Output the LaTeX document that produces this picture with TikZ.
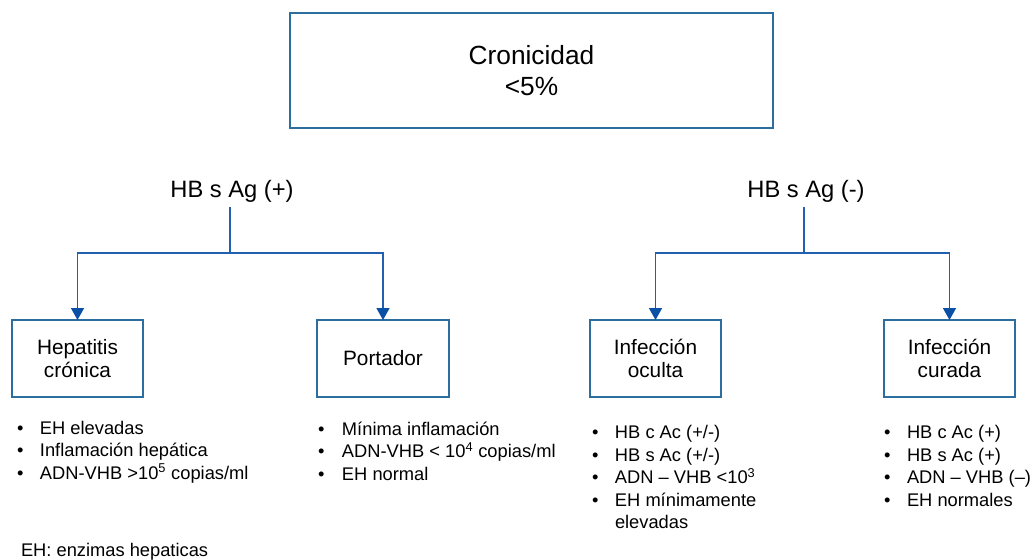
\documentclass[tikz,border=0pt]{standalone}
\usepackage{fontspec}
\setmainfont{Liberation Sans}
\usetikzlibrary{arrows.meta}
\definecolor{boxcol}{RGB}{44,110,160}
\definecolor{linecol}{RGB}{35,95,175}
\definecolor{tipcol}{RGB}{10,80,165}
\newcommand{\bul}[1]{\makebox[#1][l]{\textbullet}}
\begin{document}
\begin{tikzpicture}[x=1pt,y=-1pt,
  box/.style={draw=boxcol,line width=1.3pt,inner sep=0pt,outer sep=0pt,align=center,
    minimum height=77pt,font=\fontsize{20.8}{23}\selectfont},
  head/.style={font=\fontsize{23.7}{26}\selectfont,inner sep=5pt,outer sep=0pt,anchor=base},
  conn/.style={draw=linecol,line width=1.5pt},
  arr/.style={conn,-{Triangle[width=13pt,length=12pt,color=tipcol]}},
  lst/.style={anchor=base west,inner sep=0pt,outer sep=0pt,font=\fontsize{18.3}{22.6}\selectfont},
]
\useasboundingbox (0,0) rectangle (1032,559);

\node[draw=boxcol,line width=1.3pt,minimum width=483pt,minimum height=115pt,inner sep=0pt,
  align=center,font=\fontsize{26.3}{31}\selectfont] (top) at (531.5,70.5) {Cronicidad\\<5\%};

\node[head] (hbp) at (232,197) {HB s Ag (+)};
\node[head] (hbn) at (806,197) {HB s Ag (-)};

\node[box,minimum width=131pt] (hc) at (77.5,358.5) {Hepatitis\\crónica};
\node[box,minimum width=132pt] (po) at (383,358.5) {Portador};
\node[box,minimum width=131pt] (oc) at (655.5,358.5) {Infección\\oculta};
\node[box,minimum width=131pt] (cu) at (949.5,358.5) {Infección\\curada};

\coordinate (jp) at (230,253);
\coordinate (jn) at (804,253);
\draw[conn] (hbp.south -| jp) -- (jp);
\draw[arr] (jp) -| (hc.north);
\draw[arr] (jp) -| (po.north);
\draw[conn] (hbn.south -| jn) -- (jn);
\draw[arr] (jn) -| (oc.north);
\draw[arr] (jn) -| (cu.north);

\node[lst] (l1) at (17,434) {\begin{tabular}[t]{@{}l@{}l@{}}
\bul{23pt}&EH elevadas\\
\bul{23pt}&Inflamación hepática\\
\bul{23pt}&ADN-VHB >10\textsuperscript{5} copias/ml
\end{tabular}};

\node[lst] (l2) at (318,435) {\begin{tabular}[t]{@{}l@{}l@{}}
\bul{24pt}&Mínima inflamación\\
\bul{24pt}&ADN-VHB < 10\textsuperscript{4} copias/ml\\
\bul{24pt}&EH normal
\end{tabular}};

\node[lst] (l3) at (592,438.5) {\begin{tabular}[t]{@{}l@{}l@{}}
\bul{23pt}&HB c Ac (+/-)\\
\bul{23pt}&HB s Ac (+/-)\\
\bul{23pt}&ADN – VHB <10\textsuperscript{3}\\
\bul{23pt}&EH mínimamente\\
&elevadas
\end{tabular}};

\node[lst] (l4) at (884,438.5) {\begin{tabular}[t]{@{}l@{}l@{}}
\bul{23pt}&HB c Ac (+)\\
\bul{23pt}&HB s Ac (+)\\
\bul{23pt}&ADN – VHB (–)\\
\bul{23pt}&EH normales
\end{tabular}};

\node[lst] (foot) at (21,556.5) {EH: enzimas hepaticas};
\end{tikzpicture}
\end{document}
